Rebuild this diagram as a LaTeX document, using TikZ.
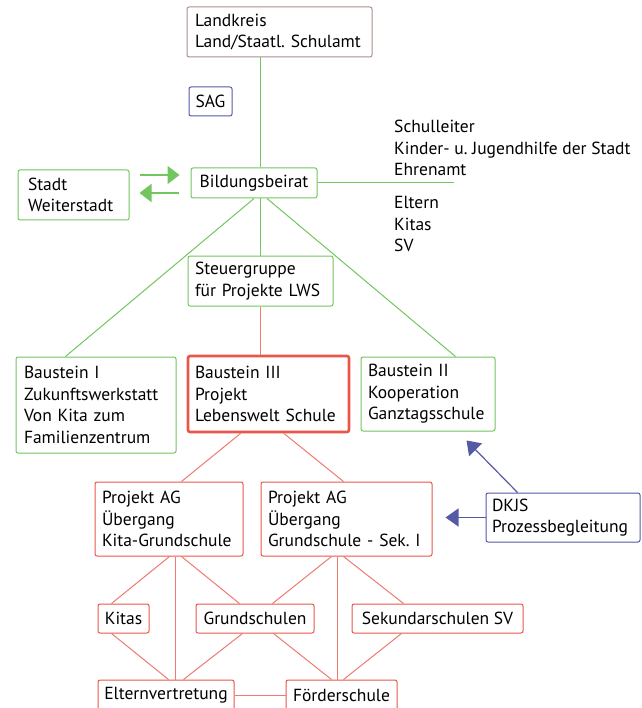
\documentclass[tikz,border=0pt]{standalone}
\usepackage{fontspec}
\setmainfont{PT Sans}
\usepackage{tikz}
\usetikzlibrary{calc,arrows.meta}
\definecolor{gruen}{HTML}{72C55F}
\definecolor{rot}{HTML}{E9574B}
\definecolor{rotline}{HTML}{EE7A70}
\definecolor{blau}{HTML}{5659A6}
\definecolor{braun}{HTML}{A8918A}
\tikzset{
  box/.style={draw, fill=white, rounded corners=2pt, line width=1pt, inner xsep=10pt, inner ysep=0pt, align=left},
  gbox/.style={box, draw=gruen},
  rbox/.style={box, draw=rot},
  txt/.style={inner sep=0pt, align=left},
  gline/.style={draw=gruen, line width=1pt},
  rline/.style={draw=rotline, line width=1pt},
  garrow/.style={draw=gruen, line width=1.8pt, -{Triangle[length=12pt, width=18pt]}},
  barrow/.style={draw=blau, line width=1.2pt, -{Triangle[length=13pt, width=18pt]}}
}
\frenchspacing
\begin{document}
\begin{tikzpicture}[x=1pt, y=-1pt, font=\fontsize{17.5}{21.5}\selectfont]
  \useasboundingbox (0,0) rectangle (641,708);

  \node[box, draw=braun, text width=169pt, inner xsep=8pt, minimum height=50pt] (land) at (279.5,32) {Landkreis\\Land/Staatl. Schulamt};
  \node[box, draw=blau, minimum width=43pt, minimum height=29pt, inner xsep=4pt] (sag) at (210.5,101.5) {SAG};
  \node[gbox, minimum width=126pt, minimum height=30pt, inner xsep=5pt] (beirat) at (254,183) {Bildungsbeirat};
  \node[gbox, text width=91pt, minimum height=50pt] (stadt) at (73.5,195) {Stadt\\Weiterstadt};
  \node[txt, anchor=west] (gremien) at (394,148) {Schulleiter\\Kinder- u. Jugendhilfe der Stadt\\Ehrenamt};
  \node[txt, anchor=west] (beteiligte) at (394,224) {Eltern\\Kitas\\SV};
  \coordinate (rand) at (454,183);
  \node[gbox, text width=131pt, inner xsep=7pt, minimum height=50pt] (steuer) at (260.5,281) {Steuergruppe\\für Projekte LWS};

  \node[gbox, text width=144pt, inner xsep=8pt, minimum height=96pt] (b1) at (96,405) {Baustein I\\Zukunftswerkstatt\\Von Kita zum\\Familienzentrum};
  \node[rbox, line width=2.6pt, text width=147pt, inner xsep=7pt, minimum height=76pt] (b3) at (268.5,394) {Baustein III\\Projekt\\Lebenswelt Schule};
  \node[gbox, text width=120pt, inner xsep=7pt, minimum height=74pt] (b2) at (428,394) {Baustein II\\Kooperation\\Ganztagsschule};

  \node[rbox, text width=134pt, inner xsep=7pt, minimum height=74pt] (ag1) at (169,519) {Projekt AG\\Übergang\\Kita-Grundschule};
  \node[rbox, text width=157pt, inner xsep=7pt, minimum height=74pt] (ag2) at (346.5,519) {Projekt AG\\Übergang\\Grundschule - Sek. I};
  \node[box, draw=blau, text width=142pt, minimum height=49pt, inner xsep=6pt] (dkjs) at (563,517.5) {DKJS\\Prozessbegleitung};

  \node[rbox, minimum width=51pt, minimum height=29pt, inner xsep=4pt] (kitas) at (123.5,618.5) {Kitas};
  \node[rbox, minimum width=118pt, minimum height=29pt, inner xsep=4pt] (grund) at (255,618.5) {Grundschulen};
  \node[rbox, minimum width=171pt, minimum height=29pt, inner xsep=4pt] (sek) at (437.5,618.5) {Sekundarschulen SV};
  \node[rbox, minimum width=136pt, minimum height=30pt, inner xsep=4pt] (eltern) at (166,695) {Elternvertretung};
  \node[rbox, minimum width=111pt, minimum height=30pt, inner xsep=4pt] (foerder) at (341.5,695) {Förderschule};

  % gruene Verbindungen
  \draw[gline] (land.south -| steuer.north) -- (beirat.north -| steuer.north);
  \draw[gline] (beirat.south -| steuer.north) -- (steuer.north);
  \draw[gline] (beirat.east) -- (rand);
  \draw[gline] (beirat.south) -- ($(b1.north west)+(50,0)$);
  \draw[gline] ($(beirat.south)+(13,0)$) -- ($(b2.north west)+(95,0)$);
  \draw[garrow] ($(stadt.east)+(10,-20)$) -- ($(beirat.west)+(-11,-8)$);
  \draw[garrow] ($(beirat.west)+(-12,10)$) -- ($(stadt.east)+(10,-2)$);

  % rote Verbindungen
  \draw[rline] (steuer.south) -- (steuer.south |- b3.north);
  \draw[rline] ($(b3.south west)+(54,0)$) -- ($(ag1.north west)+(87,0)$);
  \draw[rline] ($(b3.south west)+(97,0)$) -- ($(ag2.north west)+(83,0)$);
  \draw[rline] ($(ag1.south west)+(75,0)$) -- ($(kitas.north west)+(14,0)$);
  \draw[rline] ($(ag1.south west)+(81,0)$) -- ($(eltern.north west)+(78,0)$);
  \draw[rline] ($(ag1.south west)+(87,0)$) -- ($(grund.north west)+(44,0)$);
  \draw[rline] ($(ag2.south west)+(71,0)$) -- ($(grund.north west)+(77,0)$);
  \draw[rline] ($(ag2.south west)+(77,0)$) -- ($(foerder.north west)+(52,0)$);
  \draw[rline] ($(ag2.south west)+(83,0)$) -- ($(sek.north west)+(52,0)$);
  \draw[rline] ($(kitas.south west)+(14,0)$) -- ($(eltern.north west)+(71,0)$);
  \draw[rline] ($(grund.south west)+(47,0)$) -- ($(eltern.north west)+(86,0)$);
  \draw[rline] ($(grund.south west)+(78,0)$) -- ($(foerder.north west)+(46,0)$);
  \draw[rline] ($(sek.south west)+(50,0)$) -- ($(foerder.north west)+(58,0)$);
  \draw[rline] (eltern.east) -- (foerder.west);

  % blaue Pfeile
  \draw[barrow] (dkjs.west) -- ($(ag2.east |- dkjs.west)+(13,0)$);
  \draw[barrow] ($(dkjs.north west)+(32,0)$) -- ($(b2.south west)+(106,9)$);
\end{tikzpicture}
\end{document}
